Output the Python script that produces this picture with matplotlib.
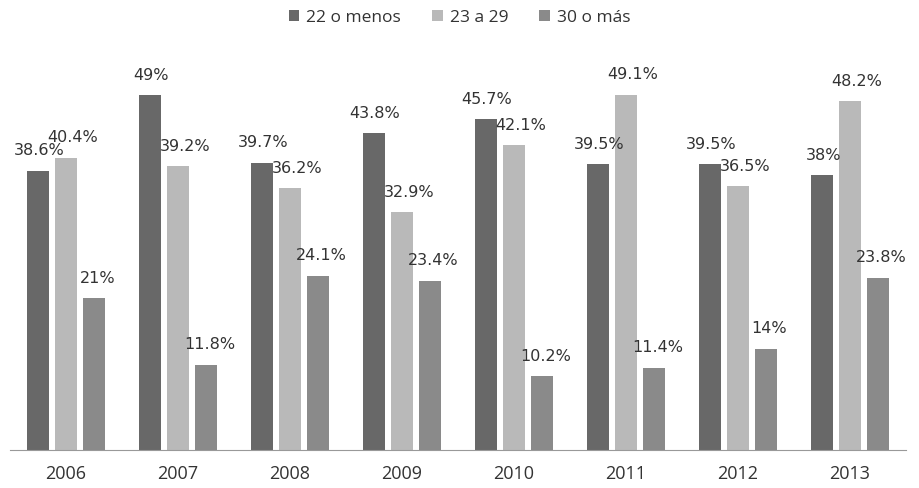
import numpy as np
import matplotlib
matplotlib.use("Agg")
import matplotlib.pyplot as plt

years = ["2006", "2007", "2008", "2009", "2010", "2011", "2012", "2013"]
series_names = ["22 o menos", "23 a 29", "30 o más"]
menos22 = [38.6, 49, 39.7, 43.8, 45.7, 39.5, 39.5, 38]
de23a29 = [40.4, 39.2, 36.2, 32.9, 42.1, 49.1, 36.5, 48.2]
mas30 = [21, 11.8, 24.1, 23.4, 10.2, 11.4, 14, 23.8]
colors = ["#686868", "#b9b9b9", "#8a8a8a"]

fig = plt.figure(figsize=(9.19, 4.88), dpi=100)
ax = fig.add_axes([10 / 919, 38 / 488, 896 / 919, 398 / 488])

x = np.arange(len(years))
width = 0.2
offsets = [-0.25, 0, 0.25]
label_dx = [0.01, 0.06, 0.03]
handles = []
for vals, off, dx, col, name in zip([menos22, de23a29, mas30], offsets, label_dx, colors, series_names):
    bars = ax.bar(x + off, vals, width, color=col, label=name)
    handles.append(bars)
    for xi, v in zip(x + off, vals):
        ax.text(xi + dx, v + 1.7, f"{v:g}%", ha="center", va="bottom",
                fontsize=11.5, color="#333333", family="DejaVu Sans")

ax.set_xlim(-0.5, len(years) - 0.5)
ax.set_ylim(0, 55)
ax.set_xticks(x)
ax.set_xticklabels(years, fontsize=13, color="#333333", family="Open Sans")
ax.tick_params(axis="x", length=0, pad=11)
ax.set_yticks([])
for side in ["top", "right", "left"]:
    ax.spines[side].set_visible(False)
ax.spines["bottom"].set_color("#999999")

fig.legend(handles=handles, labels=series_names, loc="center", bbox_to_anchor=(0.5, 1 - 18 / 488),
           ncol=3, frameon=False, handlelength=0.6, handleheight=0.6, handletextpad=0.4,
           columnspacing=1.8, prop={"family": "Open Sans", "size": 12.5}, labelcolor="#333333")

fig.savefig("out.png", dpi=100)
